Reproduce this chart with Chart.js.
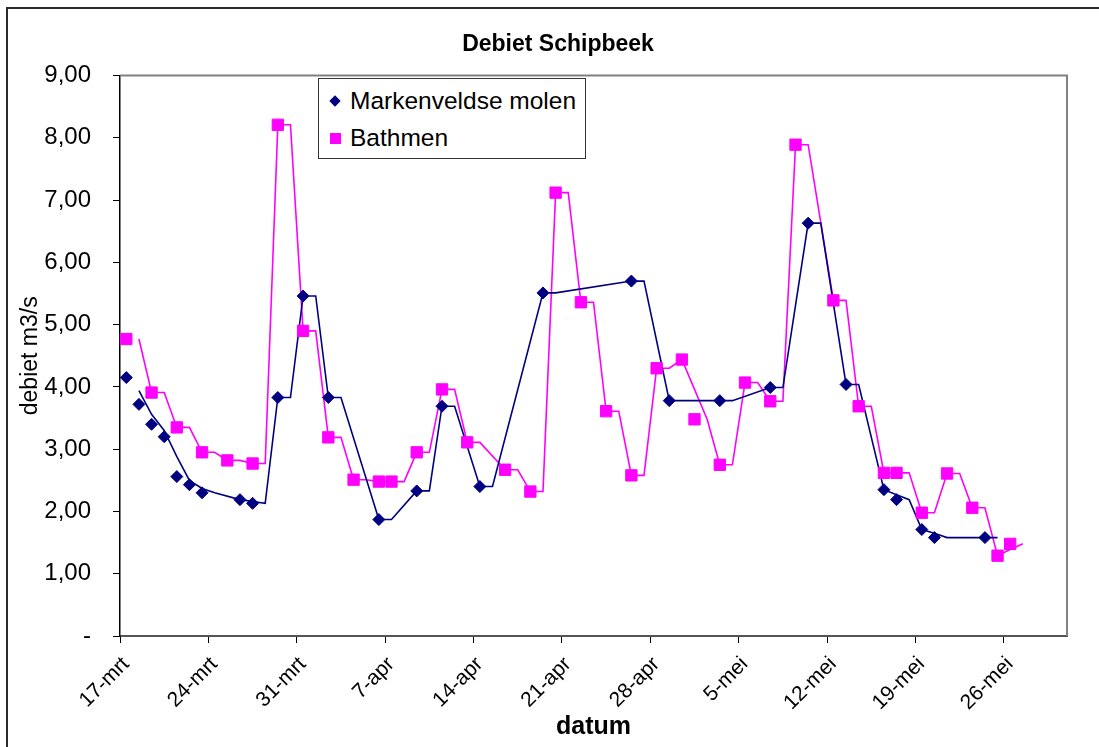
<!DOCTYPE html>
<html>
<head>
<meta charset="utf-8">
<script src="https://cdn.jsdelivr.net/npm/chart.js@4.4.1/dist/chart.umd.min.js"></script>
<style>
  html, body { margin: 0; padding: 0; background: #fff; overflow: hidden; }
  #wrap { position: relative; width: 1099px; height: 747px; overflow: hidden; }
  #frame { position: absolute; left: 6px; top: 7px; width: 1300px; height: 1000px; border: 2px solid #2b2b2b; box-sizing: border-box; }
  #c { position: absolute; left: 0; top: 0; }
  #legend { position: absolute; left: 318px; top: 78px; width: 268px; height: 81px; box-sizing: border-box;
            border: 1px solid #333; background: #fff; font-family: 'Liberation Sans', Arial, sans-serif; font-size: 24.5px; color: #000; }
  #legend .item { position: absolute; left: 0; height: 30px; line-height: 30px; white-space: nowrap; }
  #legend .txt { position: absolute; left: 31px; top: 0; }
  #legend .dia { position: absolute; left: 12px; top: 11px; width: 8px; height: 8px; background: #000080; transform: rotate(45deg); }
  #legend .sq { position: absolute; left: 11px; top: 10px; width: 11px; height: 11px; background: #ff00ff; }
</style>
</head>
<body>
<div id="wrap">
  <div id="frame"></div>
  <canvas id="c" width="1099" height="747"></canvas>
  <div id="legend">
    <div class="item" style="top:7px;"><span class="dia"></span><span class="txt">Markenveldse molen</span></div>
    <div class="item" style="top:44px;"><span class="sq"></span><span class="txt">Bathmen</span></div>
  </div>
</div>
<script>
// Days counted from 17-mrt (0 = 17-mrt)
const xTickDays   = [0, 7, 14, 21, 28, 35, 42, 49, 56, 63, 70];
const xTickLabels = ['17-mrt', '24-mrt', '31-mrt', '7-apr', '14-apr', '21-apr', '28-apr', '5-mei', '12-mei', '19-mei', '26-mei'];
const yTickValues = [0, 1, 2, 3, 4, 5, 6, 7, 8, 9];
const yTickLabels = ['-', '1,00', '2,00', '3,00', '4,00', '5,00', '6,00', '7,00', '8,00', '9,00'];

// Markenveldse molen (measurements)
const markenDays = [0.5, 1.5, 2.5, 3.5, 4.5, 5.5, 6.5, 9.5, 10.5, 12.5, 14.5, 16.5, 20.5, 23.5, 25.5, 28.5,
                    33.5, 40.5, 43.5, 47.5, 51.5, 54.5, 57.5, 60.5, 61.5, 63.5, 64.5, 68.5];
const markenVals = [4.15, 3.72, 3.40, 3.20, 2.56, 2.43, 2.30, 2.19, 2.13, 3.83, 5.46, 3.83, 1.87, 2.33, 3.69, 2.40,
                    5.51, 5.70, 3.78, 3.78, 3.99, 6.63, 4.04, 2.35, 2.19, 1.71, 1.58, 1.58];

// Bathmen (measurements)
const bathDays = [0.5, 2.5, 4.5, 6.5, 8.5, 10.5, 12.5, 14.5, 16.5, 18.5, 20.5, 21.5, 23.5, 25.5, 27.5, 30.5, 32.5,
                  34.5, 36.5, 38.5, 40.5, 42.5, 44.5, 45.5, 47.5, 49.5, 51.5, 53.5, 56.5, 58.5, 60.5, 61.5, 63.5,
                  65.5, 67.5, 69.5, 70.5];
const bathVals = [4.77, 3.91, 3.35, 2.95, 2.82, 2.77, 8.21, 4.90, 3.19, 2.51, 2.48, 2.48, 2.95, 3.96, 3.11, 2.67, 2.32,
                  7.12, 5.36, 3.61, 2.58, 4.30, 4.44, 3.48, 2.75, 4.07, 3.77, 7.89, 5.39, 3.69, 2.62, 2.62, 1.98,
                  2.61, 2.06, 1.29, 1.48];

// Trend lines (vertices)
const markenTrendDays = [1.5, 2.5, 3.5, 4.5, 5.5, 6.5, 7.5, 9.5, 10.5, 11.5, 12.5, 13.5, 14.5, 15.5, 16.5, 17.5,
                         20.5, 21.5, 23.5, 24.5, 25.5, 26.5, 28.5, 29.5, 33.5, 34.5, 40.5, 41.5, 43.5, 44.5,
                         47.5, 48.5, 51.5, 52.5, 54.5, 55.5, 57.5, 58.5, 60.5, 61.5, 62.5, 63.5, 64.5, 65.5, 68.5, 69.5];
const markenTrendVals = [3.94, 3.56, 3.30, 2.88, 2.50, 2.37, 2.30, 2.19, 2.16, 2.13, 3.83, 3.83, 5.46, 5.46, 3.83, 3.83,
                         1.87, 1.87, 2.33, 2.33, 3.69, 3.69, 2.40, 2.40, 5.51, 5.51, 5.70, 5.70, 3.78, 3.78,
                         3.78, 3.78, 3.99, 3.99, 6.63, 6.63, 4.04, 4.04, 2.35, 2.27, 2.19, 1.71, 1.65, 1.58, 1.58, 1.58];
const bathTrendDays = [1.5, 2.5, 3.5, 4.5, 5.5, 6.5, 7.5, 8.5, 9.5, 10.5, 11.5, 12.5, 13.5, 14.5, 15.5, 16.5, 17.5,
                       18.5, 19.5, 20.5, 21.5, 22.5, 23.5, 24.5, 25.5, 26.5, 27.5, 28.5,
                       30.5, 31.5, 32.5, 33.5, 34.5, 35.5, 36.5, 37.5, 38.5, 39.5, 40.5, 41.5, 42.5, 43.5, 44.5,
                       45.5, 46.5, 47.5, 48.5, 49.5, 50.5, 51.5, 52.5, 53.5, 54.5,
                       56.5, 57.5, 58.5, 59.5, 60.5, 61.5, 62.5, 63.5, 64.5, 65.5, 66.5, 67.5, 68.5, 69.5, 70.5, 71.5];
const bathTrendVals = [4.77, 3.91, 3.91, 3.35, 3.35, 2.95, 2.95, 2.82, 2.82, 2.77, 2.77, 8.21, 8.21, 4.90, 4.90, 3.19, 3.19,
                       2.51, 2.51, 2.48, 2.48, 2.48, 2.95, 2.95, 3.96, 3.96, 3.11, 3.11,
                       2.67, 2.67, 2.32, 2.32, 7.12, 7.12, 5.36, 5.36, 3.61, 3.61, 2.58, 2.58, 4.30, 4.30, 4.44,
                       3.96, 3.48, 2.75, 2.75, 4.07, 4.07, 3.77, 3.77, 7.89, 7.89,
                       5.39, 5.39, 3.69, 3.69, 2.62, 2.62, 2.62, 1.98, 1.98, 2.61, 2.61, 2.06, 2.06, 1.29, 1.39, 1.48];

const toXY = (xs, ys) => xs.map((x, i) => ({ x: x, y: ys[i] }));

const NAVY = '#000080';
const MAGENTA = '#ff00ff';
const FONT = "'Liberation Sans', Arial, sans-serif";

const plotFrame = {
  id: 'plotFrame',
  beforeDatasetsDraw(chart) {
    const { ctx, chartArea: a } = chart;
    ctx.save();
    ctx.strokeStyle = '#808080';
    ctx.lineWidth = 2;
    ctx.beginPath();
    ctx.moveTo(a.left, a.top);
    ctx.lineTo(a.right, a.top);
    ctx.lineTo(a.right, a.bottom);
    ctx.stroke();
    ctx.restore();
  }
};

new Chart(document.getElementById('c'), {
  type: 'scatter',
  data: {
    datasets: [
      { label: 'Markenveldse molen', data: toXY(markenDays, markenVals), pointStyle: 'rectRot',
        pointRadius: 6, backgroundColor: NAVY, borderColor: NAVY, borderWidth: 1, showLine: false, order: 0 },
      { label: 'Bathmen', data: toXY(bathDays, bathVals), pointStyle: 'rect',
        pointRadius: 8, backgroundColor: MAGENTA, borderColor: MAGENTA, borderWidth: 1, showLine: false, order: 0 },
      { label: 'trend Markenveldse molen', data: toXY(markenTrendDays, markenTrendVals), showLine: true,
        pointRadius: 0, borderColor: NAVY, borderWidth: 1.6, fill: false, tension: 0, order: 1 },
      { label: 'trend Bathmen', data: toXY(bathTrendDays, bathTrendVals), showLine: true,
        pointRadius: 0, borderColor: MAGENTA, borderWidth: 1.6, fill: false, tension: 0, order: 1 }
    ]
  },
  options: {
    responsive: false,
    animation: false,
    devicePixelRatio: 1,
    events: [],
    layout: { padding: { left: 17, top: 8, right: 0, bottom: 0 } },
    plugins: {
      legend: { display: false },
      tooltip: { enabled: false },
      title: {
        display: true, text: 'Debiet Schipbeek', color: '#000',
        font: { family: FONT, size: 23, weight: 'bold' },
        padding: { top: 23, bottom: 17 }
      }
    },
    scales: {
      x: {
        type: 'linear', position: 'bottom', min: 0, max: 75,
        afterBuildTicks: (s) => { s.ticks = xTickDays.map(v => ({ value: v })); },
        afterFit: (s) => { s.height = 111; },
        ticks: {
          autoSkip: false, minRotation: 45, maxRotation: 45, color: '#000', padding: 9, labelOffset: 6,
          font: { family: FONT, size: 21 },
          callback: (v, i) => xTickLabels[i]
        },
        grid: { display: true, drawOnChartArea: false, drawTicks: true, tickLength: 7, color: '#000' },
        border: { display: true, color: '#555', width: 2 },
        title: { display: true, text: 'datum', color: '#000', font: { family: FONT, size: 25, weight: 'bold' },
                 padding: { top: 0, bottom: 5 } }
      },
      y: {
        type: 'linear', position: 'left', min: 0, max: 9,
        afterBuildTicks: (s) => { s.ticks = yTickValues.map(v => ({ value: v })); },
        afterFit: (s) => { s.width = 103; },
        ticks: {
          color: '#000', padding: 22, font: { family: FONT, size: 24 },
          callback: (v, i) => yTickLabels[i]
        },
        grid: { display: true, drawOnChartArea: false, drawTicks: true, tickLength: 7, color: '#000' },
        border: { display: true, color: '#000', width: 1.5 },
        title: { display: true, text: 'debiet m3/s', color: '#000', font: { family: FONT, size: 23 },
                 padding: { top: 0, bottom: 0 } }
      },
      yRight: {
        type: 'linear', position: 'right', min: 0, max: 9,
        afterFit: (s) => { s.width = 32; },
        ticks: { display: false },
        grid: { display: false },
        border: { display: false },
        title: { display: false }
      }
    }
  },
  plugins: [plotFrame]
});
</script>
</body>
</html>
